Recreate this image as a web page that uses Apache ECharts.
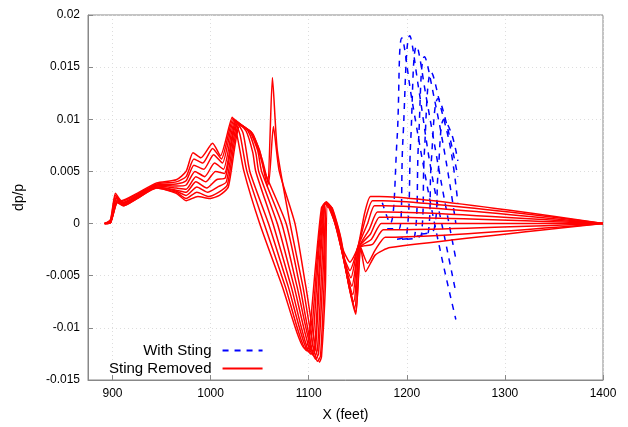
<!DOCTYPE html>
<html>
<head>
<meta charset="utf-8">
<script src="https://cdn.jsdelivr.net/npm/echarts@6/dist/echarts.min.js"></script>
<style>html,body{margin:0;padding:0;background:#fff}#chart{width:628px;height:427px}</style>
</head>
<body>
<div id="chart"></div>
<script>
'use strict';
// x tick labels
var xTicks = [900, 1000, 1100, 1200, 1300, 1400];

// Sting Removed curves (red)
var red0 = [[892,0],[898,0.0004],[903,0.0029],[909,0.0022],[925,0.0029],[945,0.0039],[965,0.0042],[975,0.0050],[982,0.0068],[990,0.0063],[1002,0.0077],[1010,0.0065],[1022,0.0102],[1034,0.005],[1050,0],[1073,-0.006],[1096,-0.0120],[1100,-0.0112],[1107,-0.004],[1113,0.0015],[1117,0.0020],[1125,0.0005],[1135,-0.0025],[1142,-0.0037],[1150,-0.0023],[1157,0.0010],[1163,0.0026],[1172,0.0026],[1400,0]];
var red1 = [[892,0],[898,0.0003],[903,0.0027],[909,0.0021],[925,0.0028],[945,0.0038],[965,0.0040],[975,0.0045],[983,0.0062],[992,0.0058],[1002,0.0072],[1011,0.0062],[1023,0.0101],[1030,0.0085],[1037,0.005],[1054.5,0],[1076,-0.006],[1098,-0.0122],[1102,-0.0115],[1109,-0.003],[1114,0.0016],[1118,0.0021],[1126,0.0003],[1135,-0.003],[1142,-0.0045],[1150,-0.0023],[1158,0.0005],[1165,0.0022],[1175,0.0022],[1400,0]];
var red2 = [[892,0],[898,0.0002],[904,0.0026],[910,0.002],[925,0.0027],[945,0.0037],[965,0.0038],[975,0.0041],[983,0.0056],[993,0.0052],[1003,0.0066],[1012,0.0058],[1024,0.0100],[1033,0.0087],[1040,0.005],[1059,0],[1079,-0.006],[1100,-0.0123],[1104,-0.0116],[1110,-0.003],[1115,0.0017],[1118,0.0020],[1127,0.0],[1136,-0.0035],[1143,-0.0052],[1150,-0.0023],[1160,0.0],[1167,0.0017],[1178,0.0017],[1400,0]];
var red3 = [[892,0],[898,0.0002],[904,0.0025],[910,0.0019],[925,0.0026],[945,0.0037],[965,0.0036],[975,0.0037],[984,0.0050],[994,0.0045],[1004,0.0058],[1013,0.0052],[1025,0.0099],[1036,0.0089],[1043,0.0068],[1046,0.005],[1063.5,0],[1082,-0.006],[1102,-0.0125],[1106,-0.012],[1112,-0.002],[1116,0.0018],[1119,0.002],[1128,-0.0002],[1137,-0.004],[1144,-0.0060],[1151,-0.0023],[1162,-0.0005],[1170,0.0011],[1180,0.0011],[1400,0]];
var red4 = [[892,0],[898,0.0001],[904,0.0024],[910,0.0019],[925,0.0026],[945,0.0036],[965,0.0034],[975,0.0033],[985,0.0045],[995,0.0040],[1005,0.0050],[1014,0.0048],[1026,0.0098],[1038,0.0089],[1046,0.0068],[1049,0.005],[1068,0],[1085,-0.006],[1104,-0.0126],[1107,-0.012],[1113,-0.002],[1117,0.0019],[1120,0.0019],[1129,-0.0005],[1138,-0.0045],[1145,-0.0068],[1151,-0.0023],[1163,-0.001],[1172,0.0006],[1182,0.0006],[1400,0]];
var red5 = [[892,0],[898,0.0001],[905,0.0023],[911,0.0018],[925,0.0025],[945,0.0035],[965,0.0032],[975,0.0030],[985,0.0040],[996,0.0034],[1006,0.0042],[1015,0.0044],[1027,0.0097],[1040,0.0088],[1048,0.007],[1052,0.005],[1072.5,0],[1088,-0.006],[1106,-0.0128],[1109,-0.012],[1114,-0.003],[1117,0.0019],[1121,0.0018],[1130,-0.0008],[1139,-0.005],[1146,-0.0075],[1152,-0.0023],[1164,-0.0015],[1174,0.0],[1184,0.0],[1400,0]];
var red6 = [[892,0],[898,0.0001],[905,0.0022],[911,0.0018],[925,0.0025],[945,0.0035],[965,0.0031],[975,0.0027],[986,0.0035],[997,0.0030],[1007,0.0035],[1016,0.0040],[1028,0.0096],[1041,0.0088],[1050,0.007],[1055,0.005],[1077,0],[1091,-0.006],[1107,-0.013],[1110,-0.0125],[1115,-0.004],[1118,0.0018],[1122,0.0017],[1131,-0.001],[1140,-0.0055],[1147,-0.0082],[1152,-0.0023],[1165,-0.002],[1176,-0.0006],[1186,-0.0006],[1400,0]];
var red7 = [[892,0],[898,0.0001],[905,0.0021],[911,0.0017],[925,0.0024],[945,0.0034],[965,0.0030],[975,0.0024],[986,0.0030],[998,0.0026],[1008,0.0030],[1017,0.0037],[1029,0.0095],[1042,0.0087],[1052,0.006],[1058,0.0035],[1063,0.014],[1068,0.007],[1081,0],[1094,-0.006],[1109,-0.0132],[1112,-0.0127],[1116,-0.005],[1118,0.0017],[1123,0.0016],[1132,-0.0012],[1141,-0.006],[1148,-0.0087],[1153,-0.0023],[1160,-0.0038],[1168,-0.0025],[1178,-0.0013],[1188,-0.0013],[1400,0]];
var red8 = [[892,0],[898,0.0001],[905,0.002],[911,0.0017],[925,0.0024],[945,0.0034],[965,0.0029],[975,0.0022],[987,0.0026],[999,0.0024],[1009,0.0027],[1018,0.0035],[1030,0.0094],[1043,0.0086],[1053,0.006],[1059,0.0038],[1064,0.0093],[1070,0.005],[1086,0],[1097,-0.006],[1111,-0.0133],[1113,-0.0128],[1117,-0.006],[1119,0.0016],[1124,0.0015],[1133,-0.0015],[1141,-0.006],[1148,-0.0085],[1153,-0.0023],[1158,-0.0046],[1168,-0.003],[1183,-0.0023],[1400,0]];

// With Sting curves (blue, dashed)
var blue0 = [[1175,0.002],[1183,0.0],[1190,0.008],[1195,0.0178],[1205,0.012],[1220,0.004],[1235,-0.003],[1250,-0.0092]];
var blue1 = [[1180,-0.0005],[1192,-0.0005],[1196,0.008],[1203,0.018],[1212,0.013],[1225,0.005],[1240,-0.002],[1250,-0.0066]];
var blue2 = [[1190,-0.0015],[1200,-0.001],[1204,0.008],[1210,0.017],[1220,0.012],[1235,0.004],[1250,-0.0034]];
var blue3 = [[1195,-0.0015],[1208,-0.0012],[1212,0.008],[1218,0.016],[1228,0.012],[1240,0.006],[1250,0.0]];
var blue4 = [[1200,-0.0015],[1215,-0.001],[1218,0.007],[1225,0.0145],[1235,0.011],[1245,0.007],[1252,0.002]];
var blue5 = [[1210,-0.0012],[1222,-0.0008],[1225,0.006],[1232,0.012],[1242,0.009],[1252,0.0045]];
var blue6 = [[1215,-0.001],[1228,-0.0005],[1232,0.005],[1238,0.010],[1246,0.0085],[1252,0.006]];

var redCurves = [red0, red1, red2, red3, red4, red5, red6, red7, red8];
var blueCurves = [blue0, blue1, blue2, blue3, blue4, blue5, blue6];

var chart = echarts.init(document.getElementById('chart'));
var series = [];
blueCurves.forEach(function (d) {
    series.push({
        name: 'With Sting', type: 'line', data: d, smooth: 0.4, symbol: 'none',
        lineStyle: { color: '#0000ff', width: 1.5, type: [6, 6] }, itemStyle: { color: '#0000ff' }, z: 2
    });
});
redCurves.forEach(function (d) {
    series.push({
        name: 'Sting Removed', type: 'line', data: d, smooth: 0.2, symbol: 'none',
        lineStyle: { color: '#ff0000', width: 1.5 }, itemStyle: { color: '#ff0000' }, z: 3
    });
});

var axisText = { color: '#000', fontSize: 12, fontFamily: 'Liberation Sans' };
var option = {
    animation: false,
    grid: { left: 88, right: 25, top: 15, bottom: 46, show: true, borderColor: '#888', borderWidth: 1 },
    legend: {
        orient: 'vertical', left: 104, top: 338, align: 'right', itemGap: 3,
        itemWidth: 40, itemHeight: 14,
        itemStyle: { opacity: 0 },
        textStyle: { color: '#000', fontSize: 15, fontFamily: 'Liberation Sans', padding: [0, 6, 0, 0] },
        data: ['With Sting', 'Sting Removed']
    },
    xAxis: {
        type: 'value', min: 875, max: 1400,
        name: 'X (feet)', nameLocation: 'middle', nameGap: 28,
        nameTextStyle: { color: '#000', fontSize: 14, fontFamily: 'Liberation Sans' },
        axisLine: { onZero: false, lineStyle: { color: '#888' } },
        axisTick: { inside: true, customValues: xTicks, lineStyle: { color: '#888' } },
        axisLabel: Object.assign({ customValues: xTicks, formatter: function (v) { return String(v); } }, axisText),
        splitLine: { show: true, lineStyle: { color: '#ddd', type: [1, 3] } }
    },
    yAxis: {
        type: 'value', min: -0.015, max: 0.02, interval: 0.005,
        name: 'dp/p', nameLocation: 'middle', nameGap: 62, nameRotate: 90,
        nameTextStyle: { color: '#000', fontSize: 14, fontFamily: 'Liberation Sans' },
        axisLine: { show: true, lineStyle: { color: '#888' } },
        axisTick: { show: true, inside: true, lineStyle: { color: '#888' } },
        axisLabel: Object.assign({ formatter: function (v) { return String(+v.toFixed(3)); } }, axisText),
        splitLine: { show: true, lineStyle: { color: '#ddd', type: [1, 3] } }
    },
    series: series
};
chart.setOption(option);
</script>
</body>
</html>
